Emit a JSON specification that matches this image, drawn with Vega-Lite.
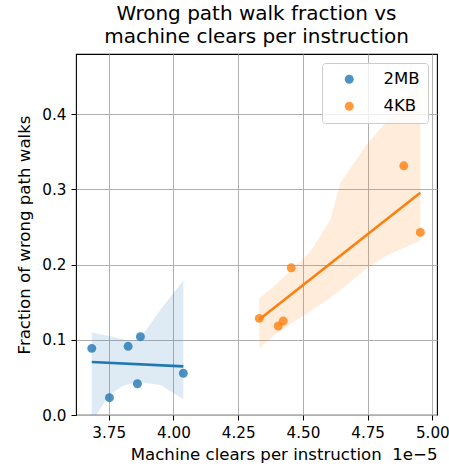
{
  "$schema": "https://vega.github.io/schema/vega-lite/v6.json",
  "width": 361,
  "height": 361,
  "autosize": {"type": "none"},
  "padding": {"left": 76, "top": 54, "right": 12, "bottom": 54},
  "background": "white",
  "title": {
    "text": ["Wrong path walk fraction vs", "machine clears per instruction"],
    "font": "DejaVu Sans",
    "fontSize": 20,
    "fontWeight": "normal",
    "lineHeight": 23,
    "color": "#000000",
    "anchor": "middle",
    "offset": 7
  },
  "config": {
    "view": {"stroke": "#000000", "strokeWidth": 1.1},
    "font": "DejaVu Sans",
    "axis": {
      "domain": false,
      "grid": true,
      "gridColor": "#b0b0b0",
      "gridWidth": 1,
      "tickColor": "#000000",
      "tickSize": 5,
      "tickWidth": 1,
      "labelFont": "DejaVu Sans",
      "labelFontSize": 15.2,
      "labelColor": "#000000",
      "labelPadding": 5,
      "titleFont": "DejaVu Sans",
      "titleFontSize": 16.6,
      "titleFontWeight": "normal",
      "titleColor": "#000000"
    },
    "legend": {
      "labelFont": "DejaVu Sans",
      "labelFontSize": 16.5,
      "labelColor": "#000000"
    }
  },
  "datasets": {
    "points": [
      {"series": "2MB", "x": 3.6845, "y": 0.0886},
      {"series": "2MB", "x": 3.7527, "y": 0.0230},
      {"series": "2MB", "x": 3.8249, "y": 0.0913},
      {"series": "2MB", "x": 3.8723, "y": 0.1041},
      {"series": "2MB", "x": 3.8608, "y": 0.0416},
      {"series": "2MB", "x": 4.0382, "y": 0.0554},
      {"series": "4KB", "x": 4.3315, "y": 0.1285},
      {"series": "4KB", "x": 4.4048, "y": 0.1183},
      {"series": "4KB", "x": 4.4240, "y": 0.1249},
      {"series": "4KB", "x": 4.4550, "y": 0.1957},
      {"series": "4KB", "x": 4.8897, "y": 0.3313},
      {"series": "4KB", "x": 4.9537, "y": 0.2428}
    ],
    "band": [
      {"series": "2MB", "x": 3.6845, "lo": -0.01, "hi": 0.110},
      {"series": "2MB", "x": 3.7200, "lo": 0.010, "hi": 0.107},
      {"series": "2MB", "x": 3.7527, "lo": 0.027, "hi": 0.105},
      {"series": "2MB", "x": 3.8000, "lo": 0.038, "hi": 0.101},
      {"series": "2MB", "x": 3.8249, "lo": 0.041, "hi": 0.099},
      {"series": "2MB", "x": 3.8700, "lo": 0.044, "hi": 0.101},
      {"series": "2MB", "x": 3.9495, "lo": 0.040, "hi": 0.140},
      {"series": "2MB", "x": 4.0382, "lo": 0.021, "hi": 0.179},
      {"series": "4KB", "x": 4.3315, "lo": 0.089, "hi": 0.155},
      {"series": "4KB", "x": 4.4000, "lo": 0.109, "hi": 0.175},
      {"series": "4KB", "x": 4.4962, "lo": 0.131, "hi": 0.206},
      {"series": "4KB", "x": 4.5282, "lo": 0.138, "hi": 0.217},
      {"series": "4KB", "x": 4.6054, "lo": 0.156, "hi": 0.259},
      {"series": "4KB", "x": 4.6440, "lo": 0.166, "hi": 0.308},
      {"series": "4KB", "x": 4.7470, "lo": 0.195, "hi": 0.360},
      {"series": "4KB", "x": 4.8242, "lo": 0.212, "hi": 0.391},
      {"series": "4KB", "x": 4.9537, "lo": 0.232, "hi": 0.4425}
    ],
    "fit": [
      {"series": "2MB", "x": 3.6845, "y": 0.0704},
      {"series": "2MB", "x": 4.0382, "y": 0.0647},
      {"series": "4KB", "x": 4.3315, "y": 0.1270},
      {"series": "4KB", "x": 4.9537, "y": 0.2954}
    ]
  },
  "encoding": {
    "x": {
      "field": "x",
      "type": "quantitative",
      "scale": {"domain": [3.6235, 5.018], "nice": false, "zero": false},
      "axis": {
        "values": [3.75, 4.0, 4.25, 4.5, 4.75, 5.0],
        "format": ".2f",
        "title": "Machine clears per instruction\u00a0\u00a01e−5",
        "titleAnchor": "end",
        "titlePadding": 6
      }
    },
    "color": {
      "field": "series",
      "type": "nominal",
      "scale": {"domain": ["2MB", "4KB"], "range": ["#1f77b4", "#ff7f0e"]},
      "legend": {
        "title": null,
        "orient": "top-right",
        "offset": 9,
        "symbolType": "circle",
        "symbolSize": 80,
        "symbolOpacity": 0.8,
        "symbolStrokeWidth": 0,
        "symbolOffset": 11,
        "labelOffset": 26,
        "padding": 8,
        "rowPadding": 10,
        "fillColor": "rgba(255,255,255,0.8)",
        "strokeColor": "#cccccc",
        "cornerRadius": 3
      }
    }
  },
  "layer": [
    {
      "data": {"name": "points"},
      "mark": {"type": "circle", "size": 80, "opacity": 0.8},
      "encoding": {
        "y": {
          "field": "y",
          "type": "quantitative",
          "scale": {"domain": [0, 0.48], "nice": false, "zero": false},
          "axis": {
            "values": [0, 0.1, 0.2, 0.3, 0.4],
            "format": ".1f",
            "title": "Fraction of wrong path walks",
            "titlePadding": 9
          }
        }
      }
    },
    {
      "data": {"name": "band"},
      "mark": {"type": "area", "opacity": 0.15, "clip": true},
      "encoding": {
        "y": {"field": "lo", "type": "quantitative"},
        "y2": {"field": "hi"}
      }
    },
    {
      "data": {"name": "fit"},
      "mark": {"type": "line", "strokeWidth": 2.6},
      "encoding": {
        "y": {"field": "y", "type": "quantitative"}
      }
    }
  ]
}
